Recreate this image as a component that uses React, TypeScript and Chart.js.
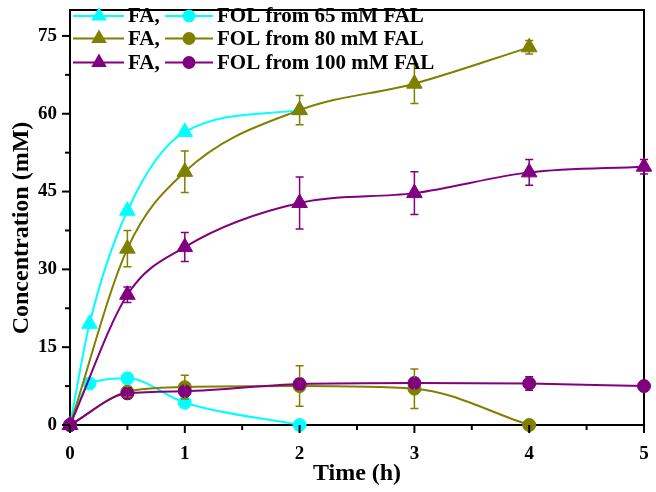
import React, { useEffect, useRef } from "react";
import { Chart, registerables } from "chart.js";

Chart.register(...registerables);

// ---- data ----
const times65 = [0, 0.17, 0.5, 1, 2];
const fa65 = [0, 19.5, 41.3, 56.5, 60.7];
const fa65Err = [0, 0, 0, 0, 0];
const fol65 = [0, 8.0, 9.0, 4.3, 0];
const fol65Err = [0, 0, 0, 0, 0];

const times80 = [0, 0.5, 1, 2, 3, 4];
const fa80 = [0, 34.0, 48.8, 60.7, 65.8, 72.8];
const fa80Err = [0, 3.5, 4.0, 2.8, 3.8, 1.3];
const fol80 = [0, 6.4, 7.3, 7.5, 7.0, 0];
const fol80Err = [0, 1.0, 2.3, 3.9, 3.8, 0];

const times100 = [0, 0.5, 1, 2, 3, 4, 5];
const fa100 = [0, 25.1, 34.3, 42.8, 44.7, 48.7, 49.8];
const fa100Err = [0, 1.5, 2.8, 5.0, 4.1, 2.5, 1.4];
const fol100 = [0, 6.1, 6.5, 7.9, 8.1, 8.0, 7.5];
const fol100Err = [0, 1.0, 0.8, 1.0, 0.8, 1.3, 0.3];

const legendRows = [
  { faLabel: "FA,", folLabel: "FOL from 65 mM FAL", color: "#00FFFF" },
  { faLabel: "FA,", folLabel: "FOL from 80 mM FAL", color: "#808000" },
  { faLabel: "FA,", folLabel: "FOL from 100 mM FAL", color: "#800080" },
];

const xTitle = "Time (h)";
const yTitle = "Concentration (mM)";

const CYAN = "#00FFFF";
const OLIVE = "#808000";
const PURPLE = "#800080";

const toPts = (xs: number[], ys: number[]) => xs.map((x, i) => ({ x, y: ys[i] }));

function makeSet(label: string, xs: number[], ys: number[], errs: number[], color: string, style: string, order: number) {
  const tri = style === "triangle";
  return {
    label,
    data: toPts(xs, ys),
    errors: errs,
    borderColor: color,
    backgroundColor: color,
    pointBackgroundColor: color,
    pointBorderColor: color,
    pointStyle: style,
    pointRadius: tri ? 9 : 6.5,
    pointBorderWidth: 1,
    borderWidth: 2,
    cubicInterpolationMode: "monotone",
    fill: false,
    order,
  };
}

const SERIF = "'Liberation Serif', 'Times New Roman', serif";

const zeroPad = (s: any) => {
  s.paddingTop = 0;
  s.paddingBottom = 0;
  s.paddingLeft = 0;
  s.paddingRight = 0;
};

const customPlugin = {
  id: "custom",
  beforeDatasetsDraw(chart: any) {
    const { ctx, chartArea: a } = chart;
    ctx.save();
    ctx.strokeStyle = "#000";
    ctx.lineWidth = 2;
    ctx.strokeRect(a.left, a.top, a.right - a.left, a.bottom - a.top);
    ctx.restore();
  },
  afterDatasetsDraw(chart: any) {
    const { ctx } = chart;
    const xs = chart.scales.x;
    const ys = chart.scales.y;
    ctx.save();
    chart.data.datasets.forEach((ds: any) => {
      ctx.strokeStyle = ds.borderColor;
      ctx.lineWidth = 1.5;
      ds.data.forEach((p: any, i: number) => {
        const e = ds.errors[i];
        if (!e) return;
        const px = xs.getPixelForValue(p.x);
        const top = ys.getPixelForValue(p.y + e);
        const bot = ys.getPixelForValue(p.y - e);
        ctx.beginPath();
        ctx.moveTo(px, top);
        ctx.lineTo(px, bot);
        ctx.moveTo(px - 4, top);
        ctx.lineTo(px + 4, top);
        ctx.moveTo(px - 4, bot);
        ctx.lineTo(px + 4, bot);
        ctx.stroke();
      });
    });
    ctx.restore();
  },
  afterDraw(chart: any) {
    const { ctx, chartArea: a } = chart;
    const xs = chart.scales.x;
    const ys = chart.scales.y;
    ctx.save();
    // ticks
    ctx.strokeStyle = "#000";
    ctx.lineWidth = 2;
    for (let t = 0; t <= 5.001; t += 0.5) {
      const px = xs.getPixelForValue(t);
      const major = Math.abs(t - Math.round(t)) < 1e-6;
      ctx.beginPath();
      ctx.moveTo(px, a.bottom);
      ctx.lineTo(px, a.bottom + (major ? 8 : 5));
      ctx.stroke();
    }
    for (let v = 0; v <= 75.001; v += 7.5) {
      const py = ys.getPixelForValue(v);
      const major = Math.abs(v / 15 - Math.round(v / 15)) < 1e-6;
      ctx.beginPath();
      ctx.moveTo(a.left, py);
      ctx.lineTo(a.left - (major ? 8 : 5), py);
      ctx.stroke();
    }
    // titles
    ctx.fillStyle = "#000";
    ctx.font = `bold 24px ${SERIF}`;
    ctx.textAlign = "center";
    ctx.textBaseline = "middle";
    ctx.fillText(xTitle, (a.left + a.right) / 2, 474);
    ctx.save();
    ctx.translate(22, 228);
    ctx.rotate(-Math.PI / 2);
    ctx.fillText(yTitle, 0, 0);
    ctx.restore();
    // legend
    const rowsY = [16, 38.5, 62.5];
    legendRows.forEach((r, i) => {
      const y = rowsY[i];
      ctx.strokeStyle = r.color;
      ctx.fillStyle = r.color;
      ctx.lineWidth = 2;
      ctx.beginPath();
      ctx.moveTo(73, y);
      ctx.lineTo(124, y);
      ctx.moveTo(165, y);
      ctx.lineTo(213, y);
      ctx.stroke();
      const rr = 9;
      const cx = 99;
      ctx.beginPath();
      ctx.moveTo(cx, y - rr);
      ctx.lineTo(cx + rr * Math.sin(Math.PI / 3), y + rr * 0.5);
      ctx.lineTo(cx - rr * Math.sin(Math.PI / 3), y + rr * 0.5);
      ctx.closePath();
      ctx.fill();
      ctx.beginPath();
      ctx.arc(189, y, 6.5, 0, Math.PI * 2);
      ctx.fill();
      ctx.fillStyle = "#000";
      ctx.font = `bold 21px ${SERIF}`;
      ctx.textAlign = "left";
      ctx.textBaseline = "middle";
      ctx.fillText(r.faLabel, 128, y + 1);
      ctx.fillText(r.folLabel, 217, y + 1);
    });
    ctx.restore();
  },
};

export default function App() {
  const ref = useRef<HTMLCanvasElement>(null);
  useEffect(() => {
    if (!ref.current) return;
    const chart = new Chart(ref.current, {
      type: "line",
      data: {
        datasets: [
          makeSet("FA 65", times65, fa65, fa65Err, CYAN, "triangle", 6),
          makeSet("FOL 65", times65, fol65, fol65Err, CYAN, "circle", 5),
          makeSet("FA 80", times80, fa80, fa80Err, OLIVE, "triangle", 4),
          makeSet("FOL 80", times80, fol80, fol80Err, OLIVE, "circle", 3),
          makeSet("FA 100", times100, fa100, fa100Err, PURPLE, "triangle", 2),
          makeSet("FOL 100", times100, fol100, fol100Err, PURPLE, "circle", 1),
        ] as any,
      },
      options: {
        animation: false,
        responsive: true,
        maintainAspectRatio: false,
        clip: false as any,
        layout: { padding: { top: 2, right: 12, left: 0, bottom: 0 } },
        plugins: { legend: { display: false }, tooltip: { enabled: false } },
        scales: {
          x: {
            type: "linear",
            min: 0,
            max: 5,
            border: { display: false },
            grid: { display: false, drawTicks: false },
            ticks: {
              stepSize: 1,
              padding: 18,
              color: "#000",
              font: { family: SERIF, size: 19, weight: "bold" },
              callback: (v: any) => String(v),
            },
            afterFit: (s: any) => {
              s.height = 67;
              zeroPad(s);
            },
          },
          y: {
            type: "linear",
            min: 0,
            max: 80,
            border: { display: false },
            grid: { display: false, drawTicks: false },
            afterBuildTicks: (s: any) => {
              s.ticks = [0, 15, 30, 45, 60, 75].map((v) => ({ value: v }));
            },
            ticks: {
              padding: 13,
              color: "#000",
              font: { family: SERIF, size: 19, weight: "bold" },
              callback: (v: any) => String(v),
            },
            afterFit: (s: any) => {
              s.width = 70;
              zeroPad(s);
            },
          },
        },
      } as any,
      plugins: [customPlugin],
    });
    return () => chart.destroy();
  }, []);
  return (
    <div style={{ position: "fixed", left: 0, top: 0, width: 656, height: 492 }}>
      <canvas ref={ref} />
    </div>
  );
}
